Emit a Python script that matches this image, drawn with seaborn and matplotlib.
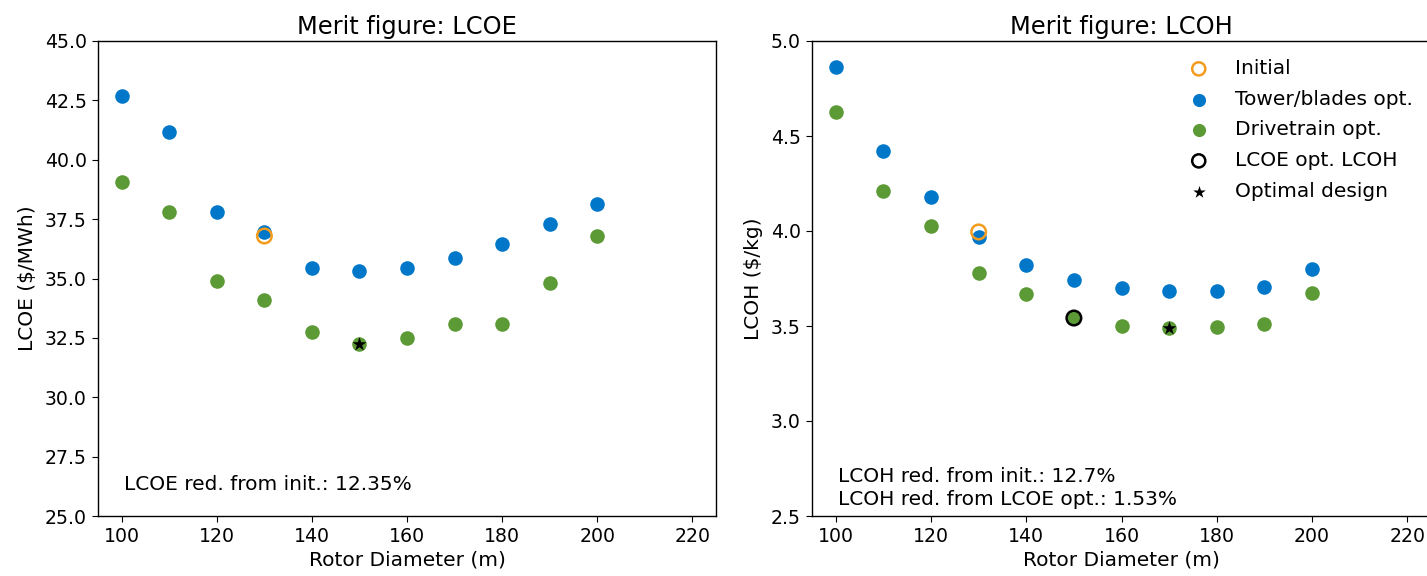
import matplotlib
matplotlib.use("Agg")
import matplotlib.pyplot as plt
import seaborn as sns
import pandas as pd

diam = [100, 110, 120, 130, 140, 150, 160, 170, 180, 190, 200]
lcoe_tower = [42.68, 41.17, 37.8, 36.96, 35.44, 35.33, 35.44, 35.86, 36.45, 37.28, 38.12]
lcoe_drive = [39.06, 37.8, 34.9, 34.08, 32.73, 32.24, 32.48, 33.1, 33.07, 34.8, 36.77]
lcoe_init = (130, 36.79)
lcoe_opt = (150, 32.24)

lcoh_tower = [4.863, 4.42, 4.18, 3.97, 3.823, 3.74, 3.70, 3.684, 3.684, 3.705, 3.80]
lcoh_drive = [4.626, 4.21, 4.026, 3.78, 3.668, 3.542, 3.50, 3.49, 3.495, 3.51, 3.674]
lcoh_init = (130, 3.995)
lcoh_lcoe_opt = (150, 3.542)
lcoh_opt = (170, 3.49)

BLUE = "#0077c8"
GREEN = "#5c9a35"
ORANGE = "#f39c1e"

sns.set_style("ticks")
plt.rcParams['font.family'] = ['DejaVu Sans']
plt.rcParams['font.size'] = 13.6
for k in ['text.color', 'axes.labelcolor', 'xtick.color', 'ytick.color', 'axes.edgecolor']:
    plt.rcParams[k] = 'black'
plt.rcParams['xtick.major.size'] = 4.5
plt.rcParams['ytick.major.size'] = 4.5

TICK = 13.6
LBL = 14.5
fig = plt.figure(figsize=(14.27, 5.76), dpi=100)
ax1 = fig.add_axes([98/1427, 60/576, 618/1427, 475/576])
ax2 = fig.add_axes([812/1427, 60/576, 619/1427, 475/576])

def panel(ax, tower, drive, init, opt, ylabel, title, ylim, yticks, fmt, extra=None, legend=False):
    df_t = pd.DataFrame({"D": diam, "v": tower})
    df_d = pd.DataFrame({"D": diam, "v": drive})
    sns.scatterplot(data=df_t, x="D", y="v", ax=ax, color=BLUE, s=110, linewidth=0, label="Tower/blades opt.", zorder=2)
    sns.scatterplot(data=df_d, x="D", y="v", ax=ax, color=GREEN, s=110, linewidth=0, label="Drivetrain opt.", zorder=2)
    sns.scatterplot(x=[init[0]], y=[init[1]], ax=ax, facecolors="none", edgecolor=ORANGE, s=110, linewidth=1.8, label="Initial", zorder=3)
    if extra is not None:
        sns.scatterplot(x=[extra[0]], y=[extra[1]], ax=ax, facecolors="none", edgecolor="black", s=110, linewidth=1.8, label="LCOE opt. LCOH", zorder=3)
    sns.scatterplot(x=[opt[0]], y=[opt[1]], ax=ax, color="black", marker="*", s=110, linewidth=0, label="Optimal design", zorder=4)
    ax.set_xlim(95, 225)
    ax.set_xticks([100, 120, 140, 160, 180, 200, 220])
    ax.set_ylim(*ylim)
    ax.set_yticks(yticks)
    ax.set_yticklabels([fmt.format(t) for t in yticks])
    ax.tick_params(labelsize=TICK)
    ax.set_xlabel("Rotor Diameter (m)", fontsize=LBL, labelpad=3)
    ax.set_ylabel(ylabel, fontsize=LBL, labelpad=6)
    ax.set_title(title, fontsize=17.4, pad=5)
    for s in ax.spines.values():
        s.set_visible(True)
        s.set_color("black")
        s.set_linewidth(1.0)
    if legend:
        h, l = ax.get_legend_handles_labels()
        order = ["Initial", "Tower/blades opt.", "Drivetrain opt.", "LCOE opt. LCOH", "Optimal design"]
        hl = dict(zip(l, h))
        ax.legend([hl[k] for k in order], order, loc="upper right", frameon=False, fontsize=LBL,
                  markerscale=0.9, borderaxespad=0.5, labelspacing=0.58)
    else:
        ax.get_legend().remove()

panel(ax1, lcoe_tower, lcoe_drive, lcoe_init, lcoe_opt, "LCOE ($/MWh)", "Merit figure: LCOE",
      (25, 45), [25, 27.5, 30, 32.5, 35, 37.5, 40, 42.5, 45], "{:.1f}")
ax1.text(0.042, 0.054, "LCOE red. from init.: 12.35%", transform=ax1.transAxes, fontsize=LBL)

panel(ax2, lcoh_tower, lcoh_drive, lcoh_init, lcoh_opt, "LCOH ($/kg)", "Merit figure: LCOH",
      (2.5, 5.0), [2.5, 3.0, 3.5, 4.0, 4.5, 5.0], "{:.1f}", extra=lcoh_lcoe_opt, legend=True)
ax2.text(0.042, 0.024, "LCOH red. from init.: 12.7%\nLCOH red. from LCOE opt.: 1.53%", transform=ax2.transAxes, fontsize=LBL, linespacing=1.25)

fig.savefig("out.png", dpi=100)
